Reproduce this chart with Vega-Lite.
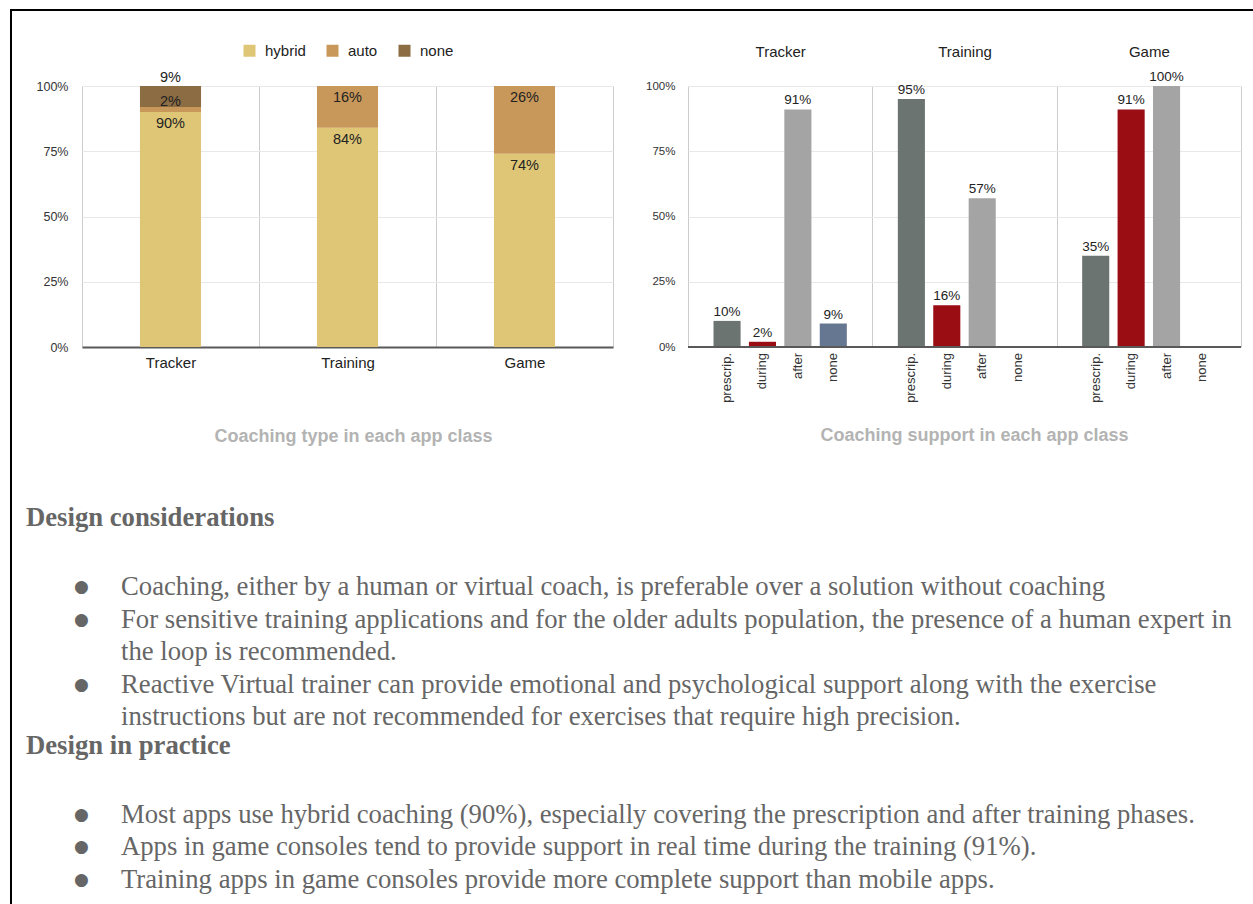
{
  "$schema": "https://vega.github.io/schema/vega-lite/v6.json",
  "padding": {"left": 10, "top": 9, "right": 0, "bottom": 0},
  "background": "white",
  "config": {
    "font": "Liberation Sans",
    "view": {"stroke": null},
    "legend": {"layout": {"top": {"anchor": "middle"}}}
  },
  "columns": 2,
  "align": "none",
  "spacing": 0,
  "resolve": {"scale": {"color": "independent"}, "legend": {"color": "independent"}},
  "concat": [
    {
      "width": 2,
      "height": 2,
      "view": {"fill": "black", "stroke": null},
      "data": {"values": []},
      "mark": "point",
      "encoding": {}
    },
    {
      "width": 1241,
      "height": 2,
      "view": {"fill": "black", "stroke": null},
      "data": {"values": []},
      "mark": "point",
      "encoding": {}
    },
    {
      "width": 2,
      "height": 893,
      "view": {"fill": "black", "stroke": null},
      "data": {"values": []},
      "mark": "point",
      "encoding": {}
    },
    {
      "spacing": 59,
      "resolve": {"scale": {"color": "independent"}, "legend": {"color": "independent"}},
      "vconcat": [
        {
          "spacing": 0,
          "resolve": {"scale": {"color": "independent"}, "legend": {"color": "independent"}},
          "hconcat": [
            {
              "width": 531,
              "height": 261,
              "data": {
                "values": [
                  {"class": "Tracker", "type": "hybrid", "share": 0.90},
                  {"class": "Tracker", "type": "auto", "share": 0.02},
                  {"class": "Tracker", "type": "none", "share": 0.09},
                  {"class": "Training", "type": "hybrid", "share": 0.84},
                  {"class": "Training", "type": "auto", "share": 0.16},
                  {"class": "Game", "type": "hybrid", "share": 0.74},
                  {"class": "Game", "type": "auto", "share": 0.26}
                ]
              },
              "transform": [
                {"calculate": "indexof(['hybrid','auto','none'], datum.type)", "as": "typeOrder"}
              ],
              "title": {
                "text": "Coaching type in each app class",
                "orient": "bottom",
                "anchor": "middle",
                "fontSize": 18,
                "fontWeight": "bold",
                "color": "#b3b3b3",
                "offset": 11,
                "dx": 6
              },
              "encoding": {
                "x": {
                  "field": "class",
                  "type": "nominal",
                  "sort": ["Tracker", "Training", "Game"],
                  "scale": {"paddingInner": 0, "paddingOuter": 0},
                  "axis": {
                    "title": null,
                    "labelAngle": 0,
                    "labelFontSize": 15,
                    "labelColor": "#222222",
                    "labelPadding": 8,
                    "ticks": false,
                    "domainColor": "#595959",
                    "domainWidth": 2,
                    "grid": true,
                    "gridColor": "#cccccc",
                    "tickBand": "extent",
                    "minExtent": 70
                  }
                },
                "y": {
                  "field": "share",
                  "type": "quantitative",
                  "stack": "zero",
                  "scale": {"domain": [0, 1], "nice": false},
                  "axis": {
                    "title": null,
                    "values": [0, 0.25, 0.5, 0.75, 1],
                    "format": ".0%",
                    "labelFontSize": 12.5,
                    "labelColor": "#333333",
                    "labelPadding": 14,
                    "ticks": false,
                    "domain": false,
                    "gridColor": "#e8e8e8",
                    "minExtent": 70
                  }
                },
                "order": {"field": "typeOrder", "type": "quantitative"}
              },
              "layer": [
                {
                  "mark": {"type": "bar", "width": {"band": 0.345}, "clip": true},
                  "encoding": {
                    "color": {
                      "field": "type",
                      "type": "nominal",
                      "scale": {"domain": ["hybrid", "auto", "none"], "range": ["#dfc676", "#c8985a", "#8c6c43"]},
                      "legend": {
                        "title": null,
                        "orient": "top",
                        "direction": "horizontal",
                        "symbolType": "square",
                        "symbolSize": 144,
                        "symbolStrokeWidth": 0,
                        "labelFontSize": 15,
                        "labelColor": "#222222",
                        "labelOffset": 8,
                        "columnPadding": 19,
                        "offset": 27
                      }
                    }
                  }
                },
                {
                  "mark": {"type": "text", "baseline": "middle", "dy": 12, "fontSize": 14.5, "color": "#222222"},
                  "encoding": {
                    "detail": {"field": "type"},
                    "text": {
                      "condition": {"test": "datum.class != 'Tracker' || datum.type == 'hybrid'", "field": "share", "type": "quantitative", "format": ".0%"},
                      "value": ""
                    }
                  }
                },
                {
                  "mark": {"type": "text", "baseline": "middle", "dy": -5, "fontSize": 14.5, "color": "#222222"},
                  "encoding": {
                    "detail": {"field": "type"},
                    "text": {
                      "condition": {"test": "datum.class == 'Tracker' && datum.type != 'hybrid'", "field": "share", "type": "quantitative", "format": ".0%"},
                      "value": ""
                    }
                  }
                }
              ]
            },
            {
              "width": 553,
              "height": 261,
              "data": {
                "values": [
                  {"class": "Tracker", "phase": "prescrip.", "share": 0.10},
                  {"class": "Tracker", "phase": "during", "share": 0.02},
                  {"class": "Tracker", "phase": "after", "share": 0.91},
                  {"class": "Tracker", "phase": "none", "share": 0.09},
                  {"class": "Training", "phase": "prescrip.", "share": 0.95},
                  {"class": "Training", "phase": "during", "share": 0.16},
                  {"class": "Training", "phase": "after", "share": 0.57},
                  {"class": "Training", "phase": "none", "share": 0},
                  {"class": "Game", "phase": "prescrip.", "share": 0.35},
                  {"class": "Game", "phase": "during", "share": 0.91},
                  {"class": "Game", "phase": "after", "share": 1.00},
                  {"class": "Game", "phase": "none", "share": 0}
                ]
              },
              "title": {
                "text": "Coaching support in each app class",
                "orient": "bottom",
                "anchor": "middle",
                "fontSize": 18,
                "fontWeight": "bold",
                "color": "#b3b3b3",
                "offset": 24,
                "dx": 10
              },
              "layer": [
                {
                  "mark": {"type": "bar"},
                  "encoding": {
                    "x": {
                      "field": "class",
                      "type": "nominal",
                      "sort": ["Tracker", "Training", "Game"],
                      "scale": {"paddingInner": 0, "paddingOuter": 0},
                      "axis": {
                        "orient": "top",
                        "title": null,
                        "labelAngle": 0,
                        "labelFontSize": 15,
                        "labelColor": "#222222",
                        "labelPadding": 27,
                        "ticks": false,
                        "domain": false,
                        "grid": true,
                        "gridColor": "#cccccc",
                        "tickBand": "extent",
                        "minExtent": 75
                      }
                    },
                    "xOffset": {
                      "field": "phase",
                      "type": "nominal",
                      "sort": ["prescrip.", "during", "after", "none"],
                      "scale": {"paddingInner": 0.235, "paddingOuter": 0.72}
                    },
                    "y": {
                      "field": "share",
                      "type": "quantitative",
                      "scale": {"domain": [0, 1], "nice": false},
                      "axis": {
                        "title": null,
                        "values": [0, 0.25, 0.5, 0.75, 1],
                        "format": ".0%",
                        "labelFontSize": 11.5,
                        "labelColor": "#333333",
                        "labelPadding": 13,
                        "ticks": false,
                        "domain": false,
                        "gridColor": "#e8e8e8",
                        "minExtent": 75
                      }
                    },
                    "color": {
                      "field": "phase",
                      "type": "nominal",
                      "scale": {"domain": ["prescrip.", "during", "after", "none"], "range": ["#6c7471", "#9a0d13", "#a4a4a4", "#657791"]},
                      "legend": null
                    }
                  }
                },
                {
                  "transform": [{"filter": "datum.share > 0"}],
                  "mark": {"type": "text", "baseline": "middle", "dy": -9, "fontSize": 13.5, "color": "#222222"},
                  "encoding": {
                    "x": {"field": "class", "type": "nominal", "sort": ["Tracker", "Training", "Game"]},
                    "xOffset": {"field": "phase", "type": "nominal", "sort": ["prescrip.", "during", "after", "none"]},
                    "y": {"field": "share", "type": "quantitative"},
                    "text": {"field": "share", "type": "quantitative", "format": ".0%"}
                  }
                },
                {
                  "mark": {"type": "text", "angle": 270, "align": "right", "baseline": "middle", "dx": -6, "fontSize": 13, "color": "#333333"},
                  "encoding": {
                    "x": {"field": "class", "type": "nominal", "sort": ["Tracker", "Training", "Game"]},
                    "xOffset": {"field": "phase", "type": "nominal", "sort": ["prescrip.", "during", "after", "none"]},
                    "y": {"datum": 0},
                    "text": {"field": "phase", "type": "nominal"}
                  }
                },
                {
                  "mark": {"type": "rule", "color": "#595959", "strokeWidth": 2},
                  "encoding": {"y": {"datum": 0}}
                }
              ]
            }
          ]
        },
        {
          "width": 1171,
          "height": 390,
          "data": {
            "values": [
              {"line": 0, "kind": "heading", "text": "Design considerations"},
              {"line": 2, "kind": "bullet", "text": "Coaching, either by a human or virtual coach, is preferable over a solution without coaching"},
              {"line": 3, "kind": "bullet", "text": "For sensitive training applications and for the older adults population, the presence of a human expert in"},
              {"line": 4, "kind": "continued", "text": "the loop is recommended."},
              {"line": 5, "kind": "bullet", "text": "Reactive Virtual trainer can provide emotional and psychological support along with the exercise"},
              {"line": 6, "kind": "continued", "text": "instructions but are not recommended for exercises that require high precision."},
              {"line": 7, "kind": "heading", "text": "Design in practice"},
              {"line": 9, "kind": "bullet", "text": "Most apps use hybrid coaching (90%), especially covering the prescription and after training phases."},
              {"line": 10, "kind": "bullet", "text": "Apps in game consoles tend to provide support in real time during the training (91%)."},
              {"line": 11, "kind": "bullet", "text": "Training apps in game consoles provide more complete support than mobile apps."}
            ]
          },
          "encoding": {
            "x": {"datum": 0, "type": "quantitative", "scale": {"domain": [0, 1], "nice": false, "zero": false}, "axis": null},
            "y": {"field": "line", "type": "quantitative", "scale": {"domain": [-0.5, 11.5], "reverse": true, "nice": false, "zero": false}, "axis": null}
          },
          "layer": [
            {
              "transform": [{"filter": "datum.kind == 'heading'"}],
              "mark": {"type": "text", "align": "left", "baseline": "middle", "font": "Liberation Serif", "fontSize": 26.7, "fontWeight": "bold", "color": "#666666", "dx": -56, "dy": -4},
              "encoding": {"text": {"field": "text", "type": "nominal"}}
            },
            {
              "transform": [{"filter": "datum.kind == 'bullet'"}],
              "mark": {"type": "text", "align": "center", "baseline": "middle", "font": "DejaVu Sans", "fontSize": 17, "color": "#666666", "dx": -0.5, "text": "●"},
              "encoding": {}
            },
            {
              "transform": [{"filter": "datum.kind != 'heading'"}],
              "mark": {"type": "text", "align": "left", "baseline": "middle", "font": "Liberation Serif", "fontSize": 26.7, "color": "#666666", "dx": 39},
              "encoding": {"text": {"field": "text", "type": "nominal"}}
            }
          ]
        }
      ]
    }
  ]
}
